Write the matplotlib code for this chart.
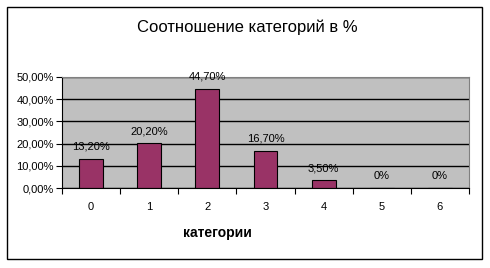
import numpy as np
import matplotlib.pyplot as plt
from matplotlib.patches import Rectangle

# ---- DATA ---- #
categories = ["0", "1", "2", "3", "4", "5", "6"]
shares = [13.2, 20.2, 44.7, 16.7, 3.5, 0.0, 0.0]
share_labels = ["13,20%", "20,20%", "44,70%", "16,70%", "3,50%", "0%", "0%"]
y_ticks = [0, 10, 20, 30, 40, 50]
y_tick_labels = ["0,00%", "10,00%", "20,00%", "30,00%", "40,00%", "50,00%"]

plt.rcParams["font.family"] = ["Liberation Sans", "DejaVu Sans"]

# ---- FIGURE ---- #
fig = plt.figure(figsize=(4.9, 2.68), dpi=100)
fig.patch.set_facecolor("white")
fig.patches.append(Rectangle((7 / 490, 9 / 268), 475 / 490, 252 / 268,
                             transform=fig.transFigure, fill=False,
                             edgecolor="black", linewidth=1))

ax = fig.add_axes([62 / 490, 80 / 268, 407 / 490, 111 / 268])
ax.set_facecolor("#C0C0C0")

x = np.arange(len(categories))
ax.yaxis.grid(True, color="black", linewidth=1)
ax.set_axisbelow(True)
bars = ax.bar(x, shares, width=0.41, color="#993366", edgecolor="black", linewidth=0.8)
ax.bar_label(bars, labels=share_labels, padding=5, fontsize=8)

ax.set_xlim(-0.5, len(categories) - 0.5)
ax.set_ylim(0, 50)
ax.set_yticks(y_ticks, labels=y_tick_labels, fontsize=8)
ax.set_xticks(np.arange(-0.5, len(categories)), labels=[])
ax.set_xticks(x, labels=categories, minor=True, fontsize=8)
ax.tick_params(axis="x", which="major", length=4, width=0.8, direction="out")
ax.tick_params(axis="x", which="minor", length=0, pad=10)
ax.tick_params(axis="y", length=4, width=0.8, pad=2)

for side in ["top", "right"]:
    ax.spines[side].set_color("#808080")
for side in ["left", "bottom"]:
    ax.spines[side].set_color("black")
    ax.spines[side].set_linewidth(0.8)

fig.text(247 / 490, 1 - 27 / 268, "Соотношение категорий в %", ha="center", va="center", fontsize=12)
fig.text(217 / 490, 1 - 233 / 268, "категории", ha="center", va="center", fontsize=10, fontweight="bold")

plt.savefig("out.png", dpi=100)
